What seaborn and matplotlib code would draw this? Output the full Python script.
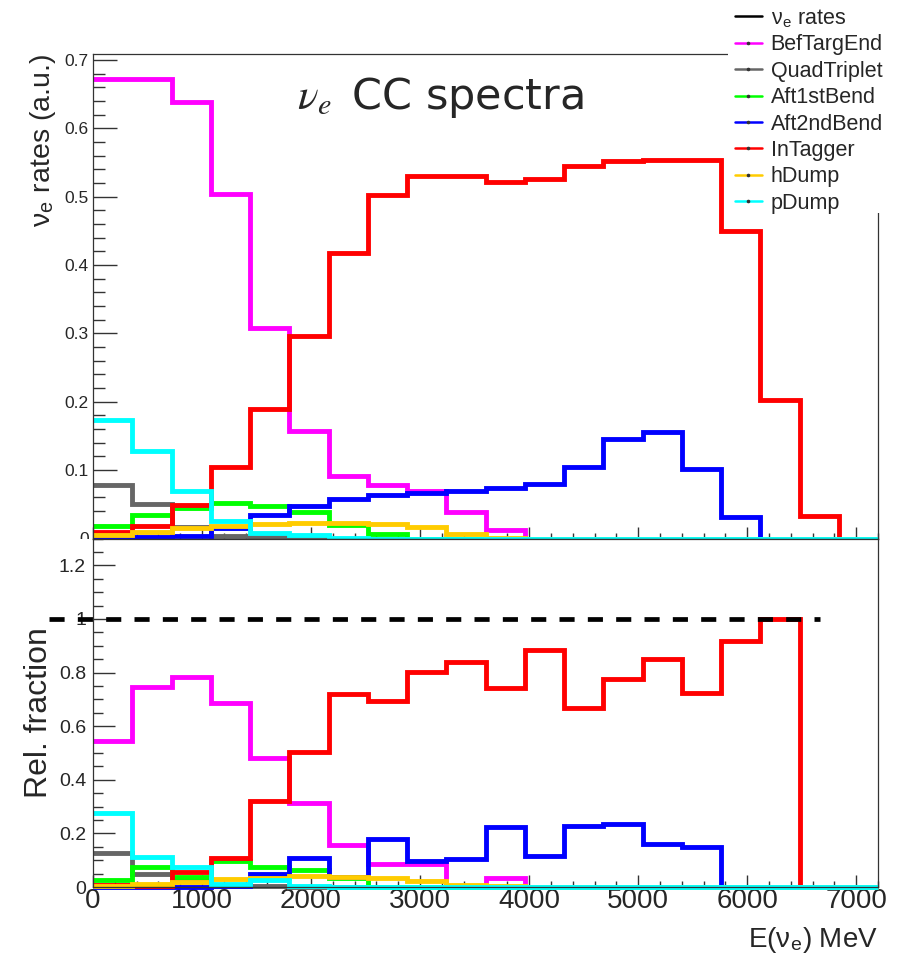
import numpy as np
import pandas as pd
import matplotlib
matplotlib.use("Agg")
import matplotlib.pyplot as plt
import seaborn as sns
from matplotlib.lines import Line2D
from matplotlib.patches import Rectangle
from matplotlib.ticker import MultipleLocator, FuncFormatter
from matplotlib.transforms import Bbox, TransformedBbox
from matplotlib import font_manager

# Energy binning of the spectra (MeV)
bin_width = 360
n_bins = 20
e_max = bin_width * n_bins
centers = np.arange(n_bins) * bin_width + bin_width / 2

series_names = ["BefTargEnd", "QuadTriplet", "Aft1stBend", "Aft2ndBend",
                "InTagger", "hDump", "pDump"]
series_colors = ["#ff00ff", "#666666", "#00ff00", "#0000ff",
                 "#ff0000", "#ffcc00", "#00ffff"]

# nu_e CC rates by decay region (a.u.)
rate_bef_targ_end = [0.673, 0.673, 0.639, 0.504, 0.308, 0.158, 0.092, 0.078, 0.070, 0.039,
                     0.012, 0, 0, 0, 0, 0, 0, 0, 0, 0]
rate_quad_triplet = [0.078, 0.051, 0.017, 0.003, 0.002, 0, 0, 0, 0, 0,
                     0, 0, 0, 0, 0, 0, 0, 0, 0, 0]
rate_aft_1st_bend = [0.018, 0.035, 0.044, 0.052, 0.047, 0.039, 0.020, 0.007, 0, 0,
                     0, 0, 0, 0, 0, 0, 0, 0, 0, 0]
rate_aft_2nd_bend = [0.002, 0.002, 0.003, 0.015, 0.034, 0.047, 0.058, 0.063, 0.066, 0.069,
                     0.074, 0.080, 0.104, 0.145, 0.156, 0.102, 0.031, 0, 0, 0]
rate_in_tagger = [0.009, 0.018, 0.049, 0.105, 0.190, 0.297, 0.418, 0.503, 0.531, 0.530,
                  0.522, 0.526, 0.545, 0.553, 0.554, 0.554, 0.450, 0.203, 0.033, 0]
rate_h_dump = [0.005, 0.010, 0.015, 0.018, 0.021, 0.023, 0.023, 0.021, 0.017, 0.006,
               0.001, 0, 0, 0, 0, 0, 0, 0, 0, 0]
rate_p_dump = [0.174, 0.128, 0.070, 0.026, 0.008, 0.005, 0.001, 0, 0, 0,
               0, 0, 0, 0, 0, 0, 0, 0, 0, 0]

# Relative fraction of each decay region per bin
frac_bef_targ_end = [0.546, 0.747, 0.785, 0.685, 0.483, 0.312, 0.157, 0.086, 0.086, 0,
                     0.033, 0, 0, 0, 0, 0, 0, 0, 0, 0]
frac_quad_triplet = [0.125, 0.050, 0.025, 0.003, 0.002, 0, 0, 0, 0, 0,
                     0, 0, 0, 0, 0, 0, 0, 0, 0, 0]
frac_aft_1st_bend = [0.026, 0.075, 0.038, 0.096, 0.076, 0.065, 0.035, 0, 0, 0,
                     0, 0, 0, 0, 0, 0, 0, 0, 0, 0]
frac_aft_2nd_bend = [0, 0, 0, 0.002, 0.050, 0.108, 0.038, 0.178, 0.098, 0.105,
                     0.223, 0.115, 0.228, 0.234, 0.160, 0.150, 0, 0, 0, 0]
frac_in_tagger = [0.006, 0.002, 0.057, 0.108, 0.320, 0.505, 0.720, 0.695, 0.803, 0.838,
                  0.741, 0.884, 0.668, 0.776, 0.852, 0.722, 0.917, 1.0, 0, 0]
frac_h_dump = [0.004, 0.011, 0.020, 0.028, 0.034, 0.040, 0.036, 0.032, 0.021, 0.008,
               0.003, 0, 0, 0, 0, 0, 0, 0, 0, 0]
frac_p_dump = [0.277, 0.112, 0.075, 0.012, 0.026, 0.002, 0, 0, 0, 0,
               0, 0, 0, 0, 0, 0, 0, 0, 0, 0]

rates = [rate_bef_targ_end, rate_quad_triplet, rate_aft_1st_bend, rate_aft_2nd_bend,
         rate_in_tagger, rate_h_dump, rate_p_dump]
fractions = [frac_bef_targ_end, frac_quad_triplet, frac_aft_1st_bend, frac_aft_2nd_bend,
             frac_in_tagger, frac_h_dump, frac_p_dump]

sns.set_style("ticks")
plt.rcParams["font.family"] = ["Liberation Sans", "DejaVu Sans"]
plt.rcParams["mathtext.fontset"] = "stix"

installed = {f.name for f in font_manager.fontManager.ttflist}
narrow_family = "Liberation Sans Narrow" if "Liberation Sans Narrow" in installed else "Liberation Sans"

W, H = 917, 957
fig = plt.figure(figsize=(W / 100, H / 100), dpi=100)
x0, x1 = 93, 878
y_top, y_mid, y_bot = 54, 538.5, 887
ax_top = fig.add_axes([x0 / W, 1 - y_mid / H, (x1 - x0) / W, (y_mid - y_top) / H])
ax_bot = fig.add_axes([x0 / W, 1 - y_bot / H, (x1 - x0) / W, (y_bot - y_mid) / H])

line_w = 3.5
for ax, table in ((ax_top, rates), (ax_bot, fractions)):
    for name, color, values in zip(series_names, series_colors, table):
        df = pd.DataFrame({"energy": centers, "weight": values})
        sns.histplot(data=df, x="energy", weights="weight",
                     binwidth=bin_width, binrange=(0, e_max),
                     element="step", fill=False, color=color,
                     linewidth=line_w, clip_on=False,
                     solid_capstyle="butt", solid_joinstyle="miter", ax=ax)

# Unit reference line in the fraction panel
ax_bot.plot([-400, 6670], [1, 1], color="black", lw=3.4, ls=(0, (3.2, 2.8)),
            clip_on=False, zorder=3, dash_capstyle="butt")

fmt = FuncFormatter(lambda v, p: f"{v:g}")
frame_color = "#333333"
for ax in (ax_top, ax_bot):
    ax.set_xlim(0, e_max)
    ax.xaxis.set_major_locator(MultipleLocator(1000))
    ax.xaxis.set_minor_locator(MultipleLocator(200))
    ax.xaxis.set_major_formatter(fmt)
    ax.tick_params(axis="x", which="major", direction="in", length=9, width=1,
                   color=frame_color, top=False)
    ax.tick_params(axis="x", which="minor", direction="in", length=4.5, width=1,
                   color=frame_color, top=False)
    for sp in ax.spines.values():
        sp.set_visible(True)
        sp.set_color(frame_color)
        sp.set_linewidth(0.9)
    ax.set_xlabel("")
    ax.set_ylabel("")

ax_top.set_ylim(0, 0.709)
ax_top.set_yticks([0, 0.1, 0.2, 0.3, 0.4, 0.5, 0.6, 0.7])
ax_top.yaxis.set_minor_locator(MultipleLocator(0.02))
ax_top.yaxis.set_major_formatter(fmt)
ax_top.tick_params(axis="y", which="major", direction="in", length=17, width=1,
                   color=frame_color, labelsize=12.5, pad=3, right=False)
ax_top.tick_params(axis="y", which="minor", direction="in", length=8.6, width=1,
                   color=frame_color, right=False)
ax_top.tick_params(axis="x", labelbottom=False)

ax_bot.set_ylim(0, 1.3)
ax_bot.set_yticks([0, 0.2, 0.4, 0.6, 0.8, 1.0, 1.2])
ax_bot.yaxis.set_minor_locator(MultipleLocator(0.05))
ax_bot.yaxis.set_major_formatter(fmt)
ax_bot.tick_params(axis="y", which="major", direction="in", length=15.6, width=1,
                   color=frame_color, labelsize=14, pad=5, right=False)
ax_bot.tick_params(axis="y", which="minor", direction="in", length=7.2, width=1,
                   color=frame_color, right=False)
ax_bot.tick_params(axis="x", which="major", labelsize=20, pad=0.5,
                   labelfontfamily=narrow_family)

# Upper-panel tick labels are cut at the panel border
clip = TransformedBbox(Bbox([[-0.3, 0.0], [1.0, 1.2]]), ax_top.transAxes)
for tick in ax_top.yaxis.get_major_ticks():
    tick.label1.set_clip_box(clip)
    tick.label1.set_clip_on(True)

ax_top.set_ylabel(r"ν$_\mathregular{e}$ rates (a.u.)", fontsize=20.5, loc="top")
ax_top.yaxis.set_label_coords(-0.0446, 1.0)
ax_bot.set_ylabel("Rel. fraction", fontsize=23)
ax_bot.yaxis.set_label_coords(-0.0497, 0.5)
ax_bot.set_xlabel(r"E(ν$_\mathregular{e}$) MeV", fontsize=20, loc="right")
ax_bot.xaxis.set_label_coords(1.0, -0.108)

fig.text(297 / W, 1 - 97 / H, r"$\nu_e\,$ CC spectra", fontsize=31,
         family=["DejaVu Sans"], ha="left", va="center")

# Legend box sits over the upper-right corner of the frame
fig.add_artist(Rectangle((728 / W, 1 - 213 / H), (W - 728) / W, 213 / H,
                         transform=fig.transFigure, facecolor="white",
                         edgecolor="none", zorder=4))
handles = [Line2D([], [], color="black", lw=1.8)]
handles += [Line2D([], [], color=c, lw=1.8, marker="o", ms=1.6, mfc="#333333",
                   mec="#333333") for c in series_colors]
labels = [r"ν$_\mathregular{e}$ rates"] + series_names
fig.legend(handles, labels, loc="upper left", bbox_to_anchor=(735 / W, 1 - 7 / H),
           frameon=False, fontsize=15.5, handlelength=1.25, handletextpad=0.4,
           labelspacing=0.25, borderpad=0, borderaxespad=0, numpoints=1)

fig.savefig("out.png", dpi=100)
